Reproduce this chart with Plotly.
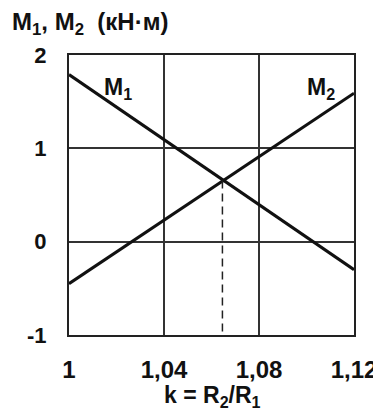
import plotly.graph_objects as go

k_vals = [1.0, 1.12]
m1_vals = [1.79, -0.30]
m2_vals = [-0.45, 1.59]
k_cross = 1.0646
m_cross = 0.655

x_tickvals = [1.0, 1.04, 1.08, 1.12]
x_ticktext = ["1", "1,04", "1,08", "1,12"]
y_tickvals = [-1, 0, 1, 2]
y_ticktext = ["-1", "0", "1", "2"]

FONT = "Liberation Sans, Arial, sans-serif"
OFF = 8  # page body margin
W, H = 381 - OFF, 412 - OFF
PL, PT = 69 - OFF, 55 - OFF
PW, PH = 285, 280
PR = W - PL - PW
PB = H - PT - PH

fig = go.Figure()
fig.add_trace(go.Scatter(x=k_vals, y=m1_vals, mode="lines",
                         line=dict(color="#111", width=3), showlegend=False))
fig.add_trace(go.Scatter(x=k_vals, y=m2_vals, mode="lines",
                         line=dict(color="#111", width=3), showlegend=False))
fig.add_trace(go.Scatter(x=[k_cross, k_cross], y=[m_cross, -1], mode="lines",
                         line=dict(color="#222", width=1.5, dash="8px,5px"), showlegend=False))

fig.update_layout(
    width=W, height=H,
    margin=dict(l=PL, r=PR, t=PT, b=PB, autoexpand=False),
    plot_bgcolor="white", paper_bgcolor="white",
    font=dict(family=FONT, size=24, color="#111", weight="bold"),
    xaxis=dict(range=[1.0, 1.12], tickvals=x_tickvals, ticktext=x_ticktext,
               showgrid=True, gridcolor="#333", gridwidth=1.5,
               showline=True, linecolor="#222", linewidth=2, mirror=True,
               zeroline=False, ticks="", ticklabelstandoff=12, automargin=False,
               tickfont=dict(size=24, family=FONT, weight="bold")),
    yaxis=dict(range=[-1, 2], tickvals=y_tickvals, ticktext=y_ticktext,
               showgrid=True, gridcolor="#333", gridwidth=1.5,
               showline=True, linecolor="#222", linewidth=2, mirror=True,
               zeroline=False, ticks="", ticklabelstandoff=16, automargin=False,
               tickfont=dict(size=22, family=FONT, weight="bold")),
    annotations=[
        dict(text="M<sub>1</sub>, M<sub>2</sub>  (кН·м)", xref="paper", yref="paper",
             x=(10 - 69) / PW, y=1 + (55 - 24) / PH, xanchor="left", yanchor="middle",
             showarrow=False, font=dict(size=24, family=FONT, weight="bold")),
        dict(text="k = R<sub>2</sub>/R<sub>1</sub>", xref="paper", yref="paper",
             x=(212 - 69) / PW, y=-(396 - 335) / PH, xanchor="center", yanchor="middle",
             showarrow=False, font=dict(size=23, family=FONT, weight="bold")),
        dict(text="M<sub>1</sub>", xref="x", yref="y", x=1.0205, y=1.64,
             showarrow=False, font=dict(size=23, family=FONT, weight="bold")),
        dict(text="M<sub>2</sub>", xref="x", yref="y", x=1.1060, y=1.64,
             showarrow=False, font=dict(size=23, family=FONT, weight="bold")),
    ],
)

fig.write_html("out.html")
